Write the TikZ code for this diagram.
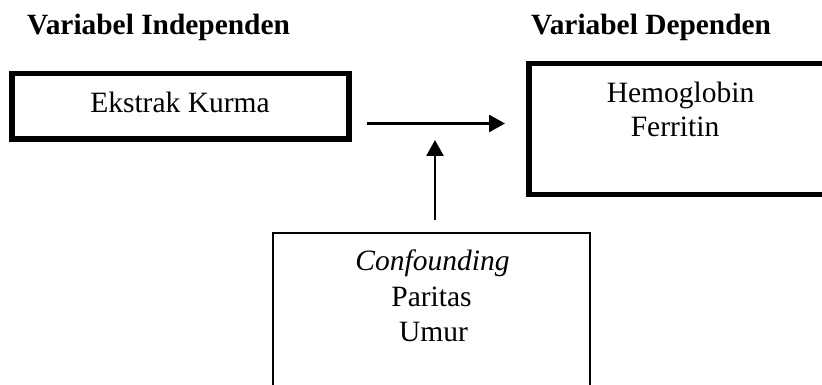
\documentclass[tikz,border=0pt]{standalone}
\usepackage{fontspec}
\setmainfont{Liberation Serif}
\usetikzlibrary{arrows.meta}
\tikzset{
  thickbox/.style={draw=black, line width=5.5pt, inner sep=0pt, fill=none},
  thinbox/.style={draw=black, line width=2pt, inner sep=0pt, fill=none},
  lbl/.style={inner sep=0pt, anchor=base, font=\fontsize{29.5}{34}\selectfont},
  ttl/.style={inner sep=0pt, anchor=base west, font=\fontsize{29.4}{34}\selectfont\bfseries},
  arr/.style={line width=2.5pt, -{Triangle[length=16pt,width=17pt]}}
}
\begin{document}
\begin{tikzpicture}[x=1pt,y=-1pt]
\fill[white] (0,0) rectangle (822,385);
\clip (0,0) rectangle (822,385);
% titles
\node[ttl] (tind) at (27,35) {Variabel Independen};
\node[ttl] (tdep) at (531,35) {Variabel Dependen};
% boxes
\node[thickbox, minimum width=337pt, minimum height=65.5pt] (ind) at (180.5,106.25) {};
\node[thickbox, minimum width=302pt, minimum height=131pt] (dep) at (680,129) {};
\node[thinbox, minimum width=317pt, minimum height=168pt] (conf) at (431.5,316.5) {};
% texts
\node[lbl] (ek) at (180,113) {Ekstrak Kurma};
\node[lbl] (hb) at (680.5,103) {Hemoglobin};
\node[lbl] (fe) at (675,137) {Ferritin};
\node[lbl] (cf) at (432.5,270.7) {\itshape Confounding};
\node[lbl] (pa) at (431.5,306.7) {Paritas};
\node[lbl] (um) at (433.5,341.7) {Umur};
% arrows
\coordinate (h1) at (367,123.5);
\coordinate (h2) at (505,123.5);
\coordinate (v1) at (435,220);
\coordinate (v2) at (435,140);
\draw[arr] (h1) -- (h2);
\draw[arr] (v1) -- (v2);
\end{tikzpicture}
\end{document}
